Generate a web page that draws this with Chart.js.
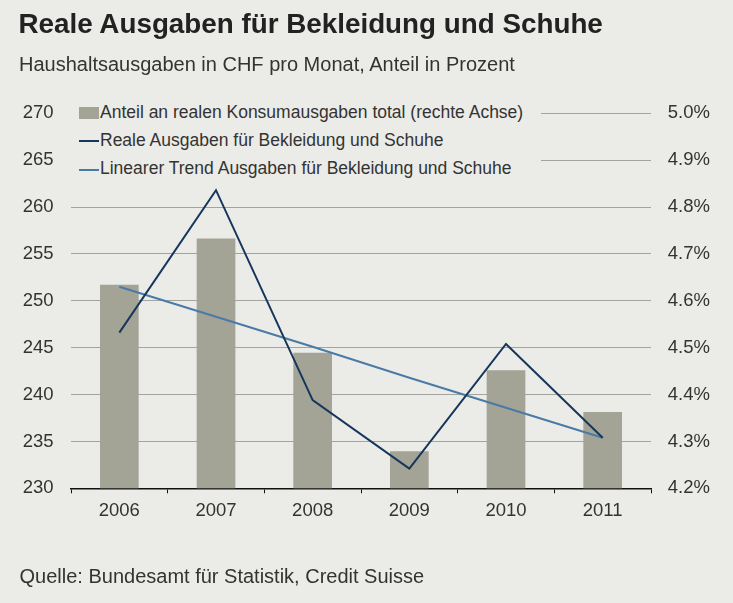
<!DOCTYPE html>
<html>
<head>
<meta charset="utf-8">
<script src="https://cdn.jsdelivr.net/npm/chart.js@4.4.1/dist/chart.umd.min.js"></script>
<style>
  html, body { margin: 0; padding: 0; background: #ebebe7; }
  body { width: 733px; height: 603px; position: relative; overflow: hidden; font-family: "Liberation Sans", Arial, sans-serif; color: #333; }
  #wrap { position: absolute; left: 0; top: 0; width: 733px; height: 603px; }
  .txt { position: absolute; white-space: nowrap; line-height: 1; }
  #title { left: 18.5px; top: 9.5px; font-size: 27.8px; font-weight: bold; color: #222; }
  #subtitle { left: 19px; top: 54px; font-size: 20px; color: #333; }
  #source { left: 19.5px; top: 566px; font-size: 20px; color: #333; }
  #legend { position: absolute; left: 66px; top: 100px; width: 475px; height: 82px; background: #ebebe7; }
  .lrow { position: absolute; left: 13px; font-size: 17.5px; line-height: 1; white-space: nowrap; color: #333; }
  .mk { position: absolute; left: 0; width: 20px; }
  .lrow span.t { position: absolute; left: 21px; top: 0; }
</style>
</head>
<body>
<div id="wrap"><canvas id="c" width="733" height="603"></canvas></div>
<div id="title" class="txt">Reale Ausgaben für Bekleidung und Schuhe</div>
<div id="subtitle" class="txt">Haushaltsausgaben in CHF pro Monat, Anteil in Prozent</div>
<div id="source" class="txt">Quelle: Bundesamt für Statistik, Credit Suisse</div>
<div id="legend"></div>
<script>
// ---- data ----
const years = ['2006', '2007', '2008', '2009', '2010', '2011'];
const anteilProzent = [4.634, 4.733, 4.489, 4.279, 4.452, 4.363];
const realeAusgaben = [246.6, 261.8, 239.4, 232.1, 245.4, 235.4];
const trendAusgaben = [251.5, 248.3, 245.1, 241.8, 238.6, 235.4];
const leftTickLabels = ['230', '235', '240', '245', '250', '255', '260', '265', '270'];
const rightTickLabels = ['4.2%', '4.3%', '4.4%', '4.5%', '4.6%', '4.7%', '4.8%', '4.9%', '5.0%'];
const seriesNames = [
  'Anteil an realen Konsumausgaben total (rechte Achse)',
  'Reale Ausgaben für Bekleidung und Schuhe',
  'Linearer Trend Ausgaben für Bekleidung und Schuhe'
];

const barColor = '#a3a396';
const navy = '#17365c';
const steel = '#4a7aa6';
const gridColor = '#a3a3a0';
const fontFam = '"Liberation Sans", Arial, sans-serif';

// ---- legend (HTML) ----
const legend = document.getElementById('legend');
const rowTops = [4.2, 31.9, 60.2];
const markers = [
  {type: 'box', color: barColor},
  {type: 'line', color: navy},
  {type: 'line', color: steel}
];
seriesNames.forEach((name, i) => {
  const row = document.createElement('div');
  row.className = 'lrow';
  row.style.top = rowTops[i] + 'px';
  const mk = document.createElement('div');
  mk.className = 'mk';
  mk.style.background = markers[i].color;
  if (markers[i].type === 'box') { mk.style.top = '2.8px'; mk.style.height = '12px'; }
  else { mk.style.top = '8.5px'; mk.style.height = '2px'; }
  const t = document.createElement('span');
  t.className = 't';
  t.textContent = name;
  row.appendChild(mk);
  row.appendChild(t);
  legend.appendChild(row);
});

// ---- chart ----
new Chart(document.getElementById('c'), {
  data: {
    labels: years,
    datasets: [
      {
        type: 'line', label: seriesNames[1], data: realeAusgaben, yAxisID: 'y',
        borderColor: navy, borderWidth: 2, pointRadius: 0, tension: 0, order: 0
      },
      {
        type: 'line', label: seriesNames[2], data: trendAusgaben, yAxisID: 'y',
        borderColor: steel, borderWidth: 2, pointRadius: 0, tension: 0, order: 1
      },
      {
        type: 'bar', label: seriesNames[0], data: anteilProzent, yAxisID: 'y1',
        backgroundColor: barColor, borderWidth: 0,
        barPercentage: 0.4, categoryPercentage: 1.0, order: 2
      }
    ]
  },
  options: {
    responsive: false,
    animation: false,
    layout: { padding: { top: 113.3, bottom: 74.7, left: 0, right: 0 } },
    plugins: { legend: { display: false }, tooltip: { enabled: false }, title: { display: false } },
    scales: {
      x: {
        type: 'category',
        offset: true,
        grid: { offset: true, drawOnChartArea: false, drawTicks: true, tickLength: 5, color: '#111', lineWidth: 1 },
        border: { display: true, color: '#111', width: 1.5 },
        ticks: { color: '#333', font: { family: fontFam, size: 18.5 }, padding: 7, maxRotation: 0 },
        afterFit: (s) => { s.height = 40; }
      },
      y: {
        position: 'left',
        min: 230, max: 270,
        grid: { color: gridColor, lineWidth: 1, drawTicks: false },
        border: { display: false },
        ticks: {
          stepSize: 5, padding: 17.5, color: '#333',
          font: { family: fontFam, size: 18.5 },
          callback: (v, i) => leftTickLabels[i]
        },
        afterFit: (s) => { s.width = 71; }
      },
      y1: {
        position: 'right',
        min: 4.2, max: 5.0,
        grid: { display: false, drawOnChartArea: false, drawTicks: false },
        border: { display: false },
        ticks: {
          stepSize: 0.1, padding: 16.8, color: '#333',
          font: { family: fontFam, size: 18.5 },
          callback: (v, i) => rightTickLabels[i]
        },
        afterFit: (s) => { s.width = 82; }
      }
    }
  }
});
</script>
</body>
</html>
